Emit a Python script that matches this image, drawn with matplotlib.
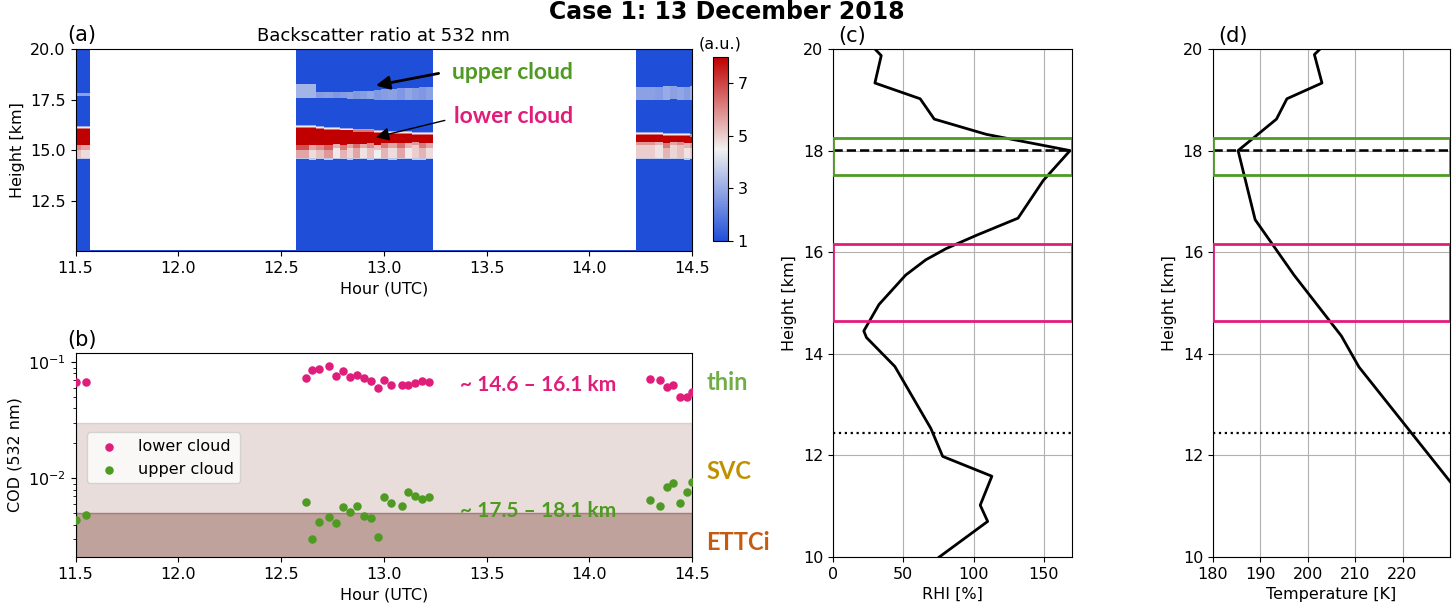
import numpy as np
import matplotlib
matplotlib.use("Agg")
import matplotlib.pyplot as plt
from matplotlib.colors import LinearSegmentedColormap, Normalize

plt.rcParams['font.size'] = 11.5

# ---- panel (b): cloud optical depth per profile ----
hours_1 = [11.503, 11.549]
hours_2 = [12.619, 12.651, 12.686, 12.734, 12.768, 12.802, 12.835, 12.869, 12.903,
           12.936, 12.970, 13.003, 13.037, 13.088, 13.120, 13.154, 13.188, 13.222]
hours_3 = [14.293, 14.342, 14.378, 14.407, 14.443, 14.476, 14.500]

cod_lower = [0.0681, 0.0681,
             0.0733, 0.0853, 0.0877, 0.0931, 0.0756, 0.0835, 0.0748, 0.0778, 0.0727,
             0.0695, 0.0600, 0.0708, 0.0641, 0.0641, 0.0641, 0.0667, 0.0686, 0.0677,
             0.0723, 0.0708, 0.0616, 0.0633, 0.0502, 0.0505, 0.0555]
cod_upper = [0.00434, 0.00479,
             0.00624, 0.00301, 0.00421, 0.00463, 0.00410, 0.00565, 0.00514, 0.00580, 0.00475,
             0.00456, 0.00313, 0.00689, 0.00611, 0.00575, 0.00760, 0.00698, 0.00658, 0.00693,
             0.00649, 0.00580, 0.00836, 0.00905, 0.00615, 0.00766, 0.00929]

# ---- panel (a): lidar segments and cloud layers per profile ----
seg_start = [11.48, 12.573, 14.227]
seg_end = [11.572, 13.238, 14.52]

low_top = [16.2, 16.2,
           16.25, 16.25, 16.2, 16.15, 16.15, 16.1, 16.1, 16.05, 16.05, 16.05, 16.0, 16.0,
           15.95, 15.95, 15.95, 15.9, 15.9, 15.9,
           15.9, 15.9, 15.85, 15.85, 15.85, 15.85, 15.8]
low_mid = [15.25, 15.25,
           15.25, 15.25, 15.25, 15.25, 15.3, 15.25, 15.3, 15.3, 15.3, 15.35, 15.25, 15.35,
           15.35, 15.35, 15.35, 15.4, 15.35, 15.35,
           15.4, 15.4, 15.35, 15.4, 15.4, 15.35, 15.35]
low_base = [14.6, 14.6,
            14.6, 14.55, 14.6, 14.55, 14.6, 14.6, 14.55, 14.6, 14.6, 14.55, 14.6, 14.6,
            14.55, 14.6, 14.6, 14.55, 14.55, 14.6,
            14.6, 14.6, 14.6, 14.6, 14.6, 14.55, 14.6]
low_mott = [6.0, 5.6,
            6.8, 5.6, 6.0, 6.6, 5.4, 6.2, 5.6, 6.4, 5.5, 6.0, 5.2, 6.2, 5.6, 6.4, 5.4, 5.8, 6.2, 5.6,
            5.8, 5.4, 6.2, 5.6, 6.0, 5.4, 5.8]
low_mott2 = [5.2, 4.8,
             5.6, 4.8, 5.2, 5.8, 4.6, 5.4, 4.9, 5.6, 4.7, 5.2, 4.5, 5.4, 4.8, 5.6, 4.6, 5.0, 5.4, 4.8,
             5.0, 4.7, 5.4, 4.9, 5.2, 4.7, 5.0]
up_top = [17.85, 17.85,
          18.3, 18.3, 17.9, 17.9, 17.9, 17.9, 17.9, 17.95, 17.95, 17.95, 18.0, 18.05,
          18.05, 18.1, 18.1, 18.1, 18.15, 18.15,
          18.15, 18.15, 18.2, 18.2, 18.15, 18.15, 18.2]
up_base = [17.7, 17.7,
           17.6, 17.6, 17.6, 17.6, 17.6, 17.6, 17.55, 17.55, 17.55, 17.55, 17.5, 17.5,
           17.5, 17.5, 17.5, 17.5, 17.5, 17.5,
           17.5, 17.5, 17.5, 17.55, 17.5, 17.5, 17.5]
up_val = [2.8, 2.8,
          3.2, 3.2, 2.7, 2.8, 2.6, 2.7, 2.8, 2.6, 2.7, 2.9, 2.6, 2.7, 2.8, 2.6, 2.9, 2.7, 2.6, 2.8,
          2.8, 2.7, 3.0, 2.8, 2.9, 2.7, 3.1]

# ---- panels (c),(d): radiosonde profiles ----
rhi_height = [20.0, 19.87, 19.33, 19.02, 18.62, 18.32, 18.0, 17.41, 16.67, 16.33, 16.07,
              15.85, 15.55, 14.97, 14.45, 14.32, 13.75, 12.53, 11.98, 11.59, 11.02, 10.70, 10.0]
rhi = [29.8, 34.3, 29.8, 62.0, 72.0, 109.0, 168.6, 149.5, 131.6, 101.8, 80.4,
       66.0, 51.7, 32.7, 21.9, 23.8, 44.0, 69.6, 78.0, 113.0, 104.7, 110.0, 75.6]
temp_height = [20.0, 19.89, 19.33, 19.02, 18.62, 18.0, 16.64, 15.55, 14.35, 13.74, 11.5, 10.0]
temp = [202.6, 201.4, 203.0, 195.6, 193.4, 185.3, 188.9, 197.1, 207.1, 210.8, 229.9, 242.7]

tropopause = 18.02
cold_point_low = 12.45
upper_layer = (17.52, 18.25)
lower_layer = (14.64, 16.16)

pink = '#e11d7c'
green = '#4f9a22'

# build backscatter ratio grid
heights = np.round(np.arange(10.0, 20.001, 0.05), 3)
h_edges = np.append(heights - 0.025, heights[-1] + 0.025)
seg_hours = [hours_1, hours_2, hours_3]
x_edges = []
columns = []
j = 0
for s in range(3):
    hs = seg_hours[s]
    mids = [(hs[i] + hs[i + 1]) / 2 for i in range(len(hs) - 1)]
    x_edges += [seg_start[s]] + mids
    for i in range(len(hs)):
        col = np.ones(len(heights))
        col[(heights >= up_base[j]) & (heights < up_top[j])] = up_val[j]
        col[(heights >= low_base[j]) & (heights < low_mid[j])] = low_mott2[j]
        col[(heights >= low_mid[j] - 0.2) & (heights < low_mid[j])] = low_mott[j]
        col[(heights >= low_mid[j]) & (heights < low_top[j])] = 8.5
        # soft edges of the lower layer
        col[(heights >= low_top[j] - 0.05) & (heights < low_top[j])] = 3.0
        col[(heights >= low_top[j] - 0.1) & (heights < low_top[j] - 0.05)] = 4.6
        col[(heights >= low_top[j] - 0.15) & (heights < low_top[j] - 0.1)] = 6.3
        col[(heights >= low_base[j]) & (heights < low_base[j] + 0.05)] = 3.6
        columns.append(col)
        j += 1
    x_edges.append(seg_end[s])
    if s < 2:
        # no-data gap, only the lowest bins were filled
        gap = np.full(len(heights), np.nan)
        gap[heights <= 10.05] = 1.0
        columns.append(gap)
bsr = np.array(columns).T

cmap = LinearSegmentedColormap.from_list('bsr', ['#1f4fd8', '#f2f0f0', '#c00000'])

fig = plt.figure(figsize=(14.53, 6.10), dpi=100)
ax_a = fig.add_axes([0.052, 0.5885, 0.4243, 0.3311])
cax = fig.add_axes([0.4907, 0.6049, 0.0103, 0.3016])
ax_b = fig.add_axes([0.052, 0.0869, 0.4243, 0.3344])
ax_c = fig.add_axes([0.5733, 0.0869, 0.1645, 0.8328])
ax_d = fig.add_axes([0.8348, 0.0869, 0.1631, 0.8328])

# (a)
mesh = ax_a.pcolormesh(x_edges, h_edges, bsr, cmap=cmap, norm=Normalize(1, 8))
ax_a.set_xlim(11.5, 14.5)
ax_a.set_ylim(10, 20)
ax_a.set_yticks([12.5, 15.0, 17.5, 20.0])
ax_a.set_xlabel('Hour (UTC)')
ax_a.set_ylabel('Height [km]')
ax_a.set_title('Backscatter ratio at 532 nm', fontsize=13)
ax_a.text(-0.013, 1.02, '(a)', transform=ax_a.transAxes, fontsize=15, va='bottom')
cb = fig.colorbar(mesh, cax=cax, ticks=[1, 3, 5, 7])
cax.set_title('(a.u.)', fontsize=11.5)

ax_a.annotate('', xy=(12.948, 18.17), xytext=(13.28, 18.82),
              arrowprops=dict(arrowstyle='-|>', color='black', lw=2, mutation_scale=20))
ax_a.annotate('', xy=(12.948, 15.6), xytext=(13.31, 16.5),
              arrowprops=dict(arrowstyle='-|>', color='black', lw=1, mutation_scale=20))
ax_a.text(13.33, 18.86, 'upper cloud', color=green, fontsize=16.5, fontweight='bold',
          family=['Lato', 'DejaVu Sans'], va='center')
ax_a.text(13.34, 16.68, 'lower cloud', color=pink, fontsize=16.5, fontweight='bold',
          family=['Lato', 'DejaVu Sans'], va='center')

# (b)
ax_b.axhspan(0.005, 0.03, color='tab:brown', alpha=0.2)
ax_b.axhspan(0.001, 0.005, color='tab:brown', alpha=0.55)
ax_b.scatter(hours_1 + hours_2 + hours_3, cod_lower, s=26, color=pink, label='lower cloud', zorder=3)
ax_b.scatter(hours_1 + hours_2 + hours_3, cod_upper, s=26, color=green, label='upper cloud', zorder=3)
ax_b.set_yscale('log')
ax_b.set_xlim(11.5, 14.5)
ax_b.set_ylim(0.0021, 0.12)
ax_b.set_xlabel('Hour (UTC)')
ax_b.set_ylabel('COD (532 nm)')
ax_b.legend(loc='upper left', bbox_to_anchor=(0.005, 0.65), fontsize=11.5)
ax_b.text(-0.013, 1.015, '(b)', transform=ax_b.transAxes, fontsize=15, va='bottom')
ax_b.text(13.37, 0.063, '~ 14.6 – 16.1 km', color=pink, fontsize=15, fontweight='bold',
          family=['Lato', 'DejaVu Sans'], va='center')
ax_b.text(13.37, 0.0052, '~ 17.5 – 18.1 km', color=green, fontsize=15, fontweight='bold',
          family=['Lato', 'DejaVu Sans'], va='center')
for lab, yy, c in [('thin', 0.853, '#70ad47'), ('SVC', 0.42, '#bf9000'), ('ETTCi', 0.069, '#c55a11')]:
    ax_b.text(1.023, yy, lab, color=c, fontsize=17, fontweight='bold',
              family=['Lato', 'DejaVu Sans'], va='center', transform=ax_b.transAxes)

# (c) and (d)
for ax, x, h, lab in [(ax_c, rhi, rhi_height, '(c)'), (ax_d, temp, temp_height, '(d)')]:
    ax.grid(True, color='#b0b0b0')
    ax.plot(x, h, color='black', lw=2)
    ax.axhline(tropopause, color='black', ls='--', lw=1.8)
    ax.axhline(cold_point_low, color='black', ls=':', lw=1.6)
    ax.axhspan(*upper_layer, fill=False, edgecolor=green, lw=2, zorder=4)
    ax.axhspan(*lower_layer, fill=False, edgecolor=pink, lw=2, zorder=4)
    ax.set_ylim(10, 20)
    ax.set_yticks([10, 12, 14, 16, 18, 20])
    ax.set_ylabel('Height [km]')
    ax.text(0.022, 1.005, lab, transform=ax.transAxes, fontsize=15, va='bottom')
ax_c.set_xlim(0, 170)
ax_c.set_xticks([0, 50, 100, 150])
ax_c.set_xlabel('RHI [%]')
ax_d.set_xlim(180, 230)
ax_d.set_xticks([180, 190, 200, 210, 220])
ax_d.set_xlabel('Temperature [K]')

fig.suptitle('Case 1: 13 December 2018', fontsize=17, fontweight='bold', y=1.0, va='top')

fig.savefig('out.png', dpi=100)
